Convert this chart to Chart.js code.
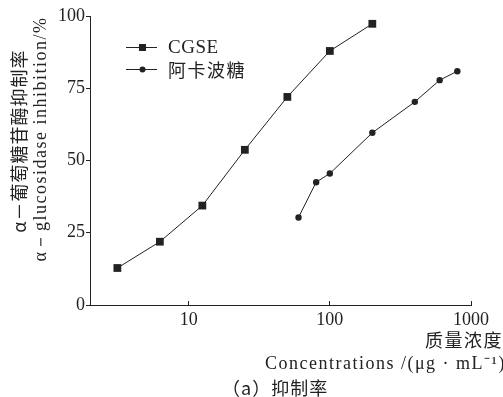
<!DOCTYPE html>
<html>
<head>
<meta charset="utf-8">
<script src="https://cdn.jsdelivr.net/npm/chart.js@4"></script>
<style>
  html, body { margin: 0; padding: 0; background: #fff; }
  #wrap { position: relative; width: 503px; height: 397px; overflow: hidden; }
  #wrap canvas { position: absolute; left: 0; top: 0; }
  .t { position: absolute; white-space: nowrap; color: #222; line-height: 20px; font-size: 18px; }
  .zh { font-family: 'Noto Sans CJK SC', sans-serif; letter-spacing: 1.5px; }
  .en { font-family: 'Liberation Serif', serif; letter-spacing: 1.5px; }
  .rot { transform: translate(-50%, -50%) rotate(-90deg); }
</style>
</head>
<body>
<div id="wrap">
  <canvas id="myChart" width="503" height="397"></canvas>
  <div class="t zh rot" style="left:18px; top:141px; letter-spacing:1px">α－葡萄糖苷酶抑制率</div>
  <div class="t en rot" style="left:40px; top:139px">α－glucosidase inhibition/%</div>
  <div class="t en" id="leg0" style="left:168px; top:37px; font-size:19px; letter-spacing:0.5px"></div>
  <div class="t zh" id="leg1" style="left:168px; top:59px"></div>
  <div class="t zh" style="left:425px; top:329px">质量浓度/</div>
  <div class="t en" style="left:265px; top:353px">Concentrations /(μg · mL⁻¹)</div>
  <div class="t zh" style="left:222px; top:377px; letter-spacing:1px">（a）抑制率</div>
</div>
<script>
// concentrations (µg/mL) and inhibition (%)
var cgseConc = [3.125, 6.25, 12.5, 25, 50, 100, 200];
var cgseInhib = [12.8, 21.9, 34.4, 53.7, 72.0, 87.9, 97.3];
var acarConc = [60, 80, 100, 200, 400, 600, 800];
var acarInhib = [30.3, 42.5, 45.5, 59.6, 70.3, 77.8, 80.9];
var seriesNames = ["CGSE", "阿卡波糖"];
var xTicks = [10, 100, 1000];
var yTicks = [0, 25, 50, 75, 100];

var serif = "'Liberation Serif', 'DejaVu Serif', serif";
var ink = "#222";

function toPoints(xs, ys) {
    return xs.map(function (x, i) { return { x: x, y: ys[i] }; });
}

// legend keys (line + marker) on the canvas, names as html text
var legendPlugin = {
    id: "miniLegend",
    afterDraw: function (chart) {
        var ctx = chart.ctx;
        var rows = [47, 69];
        ctx.save();
        chart.data.datasets.forEach(function (ds, i) {
            var y = rows[i];
            ctx.strokeStyle = ink;
            ctx.lineWidth = 1;
            ctx.beginPath();
            ctx.moveTo(126, y + 0.5);
            ctx.lineTo(157, y + 0.5);
            ctx.stroke();
            ctx.fillStyle = ink;
            if (ds.pointStyle === "rect") {
                ctx.fillRect(139, y - 3, 7, 7);
            } else {
                ctx.beginPath();
                ctx.arc(142.5, y + 0.5, 3, 0, Math.PI * 2);
                ctx.fill();
            }
        });
        ctx.restore();
    }
};

document.getElementById("leg0").textContent = seriesNames[0];
document.getElementById("leg1").textContent = seriesNames[1];

function drawChart() {
    var ctx = document.getElementById("myChart").getContext("2d");
    return new Chart(ctx, {
        type: "line",
        data: {
            datasets: [
                {
                    label: seriesNames[0],
                    data: toPoints(cgseConc, cgseInhib),
                    borderColor: ink,
                    backgroundColor: ink,
                    borderWidth: 1,
                    pointStyle: "rect",
                    pointRadius: 5.5,
                    pointBorderWidth: 0
                },
                {
                    label: seriesNames[1],
                    data: toPoints(acarConc, acarInhib),
                    borderColor: ink,
                    backgroundColor: ink,
                    borderWidth: 1,
                    pointStyle: "circle",
                    pointRadius: 3.2,
                    pointBorderWidth: 0
                }
            ]
        },
        options: {
            responsive: false,
            animation: false,
            layout: { padding: { left: 0, top: 16, right: 32, bottom: 0 } },
            plugins: {
                legend: { display: false },
                tooltip: { enabled: false }
            },
            scales: {
                x: {
                    type: "logarithmic",
                    min: 2,
                    max: 1000,
                    afterBuildTicks: function (scale) {
                        scale.ticks = xTicks.map(function (v) { return { value: v }; });
                    },
                    afterFit: function (scale) { scale.height = 92; },
                    ticks: {
                        autoSkip: false,
                        maxRotation: 0,
                        padding: 8,
                        color: ink,
                        font: { family: serif, size: 18 },
                        callback: function (v) { return String(v); }
                    },
                    grid: { drawOnChartArea: false, drawTicks: true, tickLength: -4, color: ink },
                    border: { color: ink, width: 1 }
                },
                y: {
                    min: 0,
                    max: 100,
                    afterBuildTicks: function (scale) {
                        scale.ticks = yTicks.map(function (v) { return { value: v }; });
                    },
                    afterFit: function (scale) { scale.width = 90; },
                    ticks: {
                        padding: 1,
                        color: ink,
                        font: { family: serif, size: 18 }
                    },
                    grid: { drawOnChartArea: false, drawTicks: true, tickLength: 4, color: ink },
                    border: { color: ink, width: 1 }
                }
            }
        },
        plugins: [legendPlugin]
    });
}

// wait for the fonts so the tick labels measure with the serif face
var myChart;
document.fonts.load("18px 'Liberation Serif'").then(function () {
    return document.fonts.ready;
}).then(function () {
    myChart = drawChart();
}, function () {
    myChart = drawChart();
});
</script>
</body>
</html>
